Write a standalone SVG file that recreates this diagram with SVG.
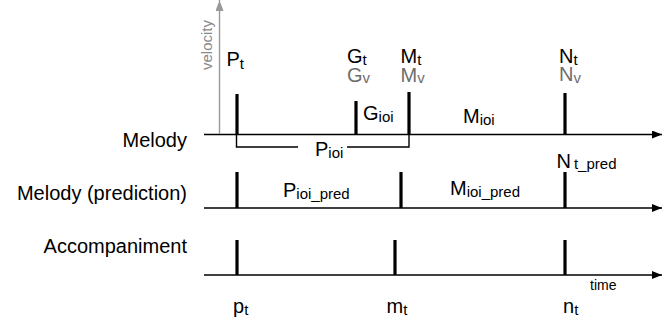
<svg xmlns="http://www.w3.org/2000/svg" width="671" height="320" viewBox="0 0 671 320">
<defs>
<marker id="ah" markerWidth="10" markerHeight="8" refX="10" refY="4" orient="auto" markerUnits="userSpaceOnUse"><path d="M0,0 L10,4 L0,8 Z" fill="#000"/></marker>
<marker id="ahg" markerWidth="8" markerHeight="11" refX="11" refY="4" orient="auto" markerUnits="userSpaceOnUse"><path d="M0,0 L11,4 L0,8 Z" fill="#999"/></marker>
<style>
text{font-family:"Liberation Sans",Arial,sans-serif;font-size:20px;fill:#000}
.g{fill:#6e6e6e}
.s{font-size:15px}
.lab{text-anchor:end}
.bar{stroke:#000;stroke-width:3.2}
.ax{stroke:#000;stroke-width:1.4;fill:none}
</style>
</defs>
<rect width="671" height="320" fill="#fff"/>
<g id="connectors">
<line class="ax" x1="204" y1="134.5" x2="662" y2="134.5" marker-end="url(#ah)"/>
<line class="ax" x1="204" y1="208" x2="662" y2="208" marker-end="url(#ah)"/>
<line class="ax" x1="204" y1="275" x2="662" y2="275" marker-end="url(#ah)"/>
<line x1="219.5" y1="134" x2="219.5" y2="0" stroke="#999" stroke-width="1.4" marker-end="url(#ahg)"/>
<path class="ax" d="M236.5,134 V147 H298 M347,147 H409 V134" stroke-width="1.2"/>
</g>
<g id="axis-labels">
<text x="212" y="45" transform="rotate(-90 212 45)" text-anchor="middle" style="font-size:15px;fill:#888">velocity</text>
<text x="590" y="290" style="font-size:14px">time</text>
</g>
<g id="melody">
<text class="lab" x="187" y="147">Melody</text>
<line class="bar" x1="237" y1="94" x2="237" y2="134.5"/>
<line class="bar" x1="356" y1="101" x2="356" y2="134.5"/>
<line class="bar" x1="409" y1="92" x2="409" y2="134.5"/>
<line class="bar" x1="565" y1="93" x2="565" y2="134.5"/>
<text x="226.5" y="66">P<tspan class="s" dy="3">t</tspan></text>
<text x="347" y="63">G<tspan class="s" dy="1.5">t</tspan><tspan class="g" x="347" dy="17">G</tspan><tspan class="s g" dy="1.5">v</tspan></text>
<text x="400.5" y="63">M<tspan class="s" dy="1.5">t</tspan><tspan class="g" x="400.5" dy="17">M</tspan><tspan class="s g" dy="1.5">v</tspan></text>
<text x="559" y="63">N<tspan class="s" dy="1.5">t</tspan><tspan class="g" x="559" dy="16.5">N</tspan><tspan class="s g" dy="1.5">v</tspan></text>
<text x="363" y="120">G<tspan class="s" dy="2">ioi</tspan></text>
<text x="463" y="123">M<tspan class="s" dy="2">ioi</tspan></text>
<text x="315" y="156">P<tspan class="s" dy="2">ioi</tspan></text>
</g>
<g id="prediction">
<text class="lab" x="187" y="200">Melody (prediction)</text>
<line class="bar" x1="237" y1="172" x2="237" y2="208"/>
<line class="bar" x1="401" y1="172" x2="401" y2="208"/>
<line class="bar" x1="565" y1="172" x2="565" y2="208"/>
<text x="283" y="196.5">P<tspan class="s" dy="2">ioi_pred</tspan></text>
<text x="450" y="195">M<tspan class="s" dy="2">ioi_pred</tspan></text>
<text x="556.5" y="167.5">N<tspan class="s" dx="3" dy="1.5">t_pred</tspan></text>
</g>
<g id="accompaniment">
<text class="lab" x="187" y="252.5">Accompaniment</text>
<line class="bar" x1="237" y1="240" x2="237" y2="275"/>
<line class="bar" x1="395" y1="240" x2="395" y2="275"/>
<line class="bar" x1="565" y1="240" x2="565" y2="275"/>
<text x="233" y="312.5">p<tspan class="s" dy="2">t</tspan></text>
<text x="386.5" y="312.5">m<tspan class="s" dy="2">t</tspan></text>
<text x="563" y="312.5">n<tspan class="s" dy="2">t</tspan></text>
</g>
</svg>
